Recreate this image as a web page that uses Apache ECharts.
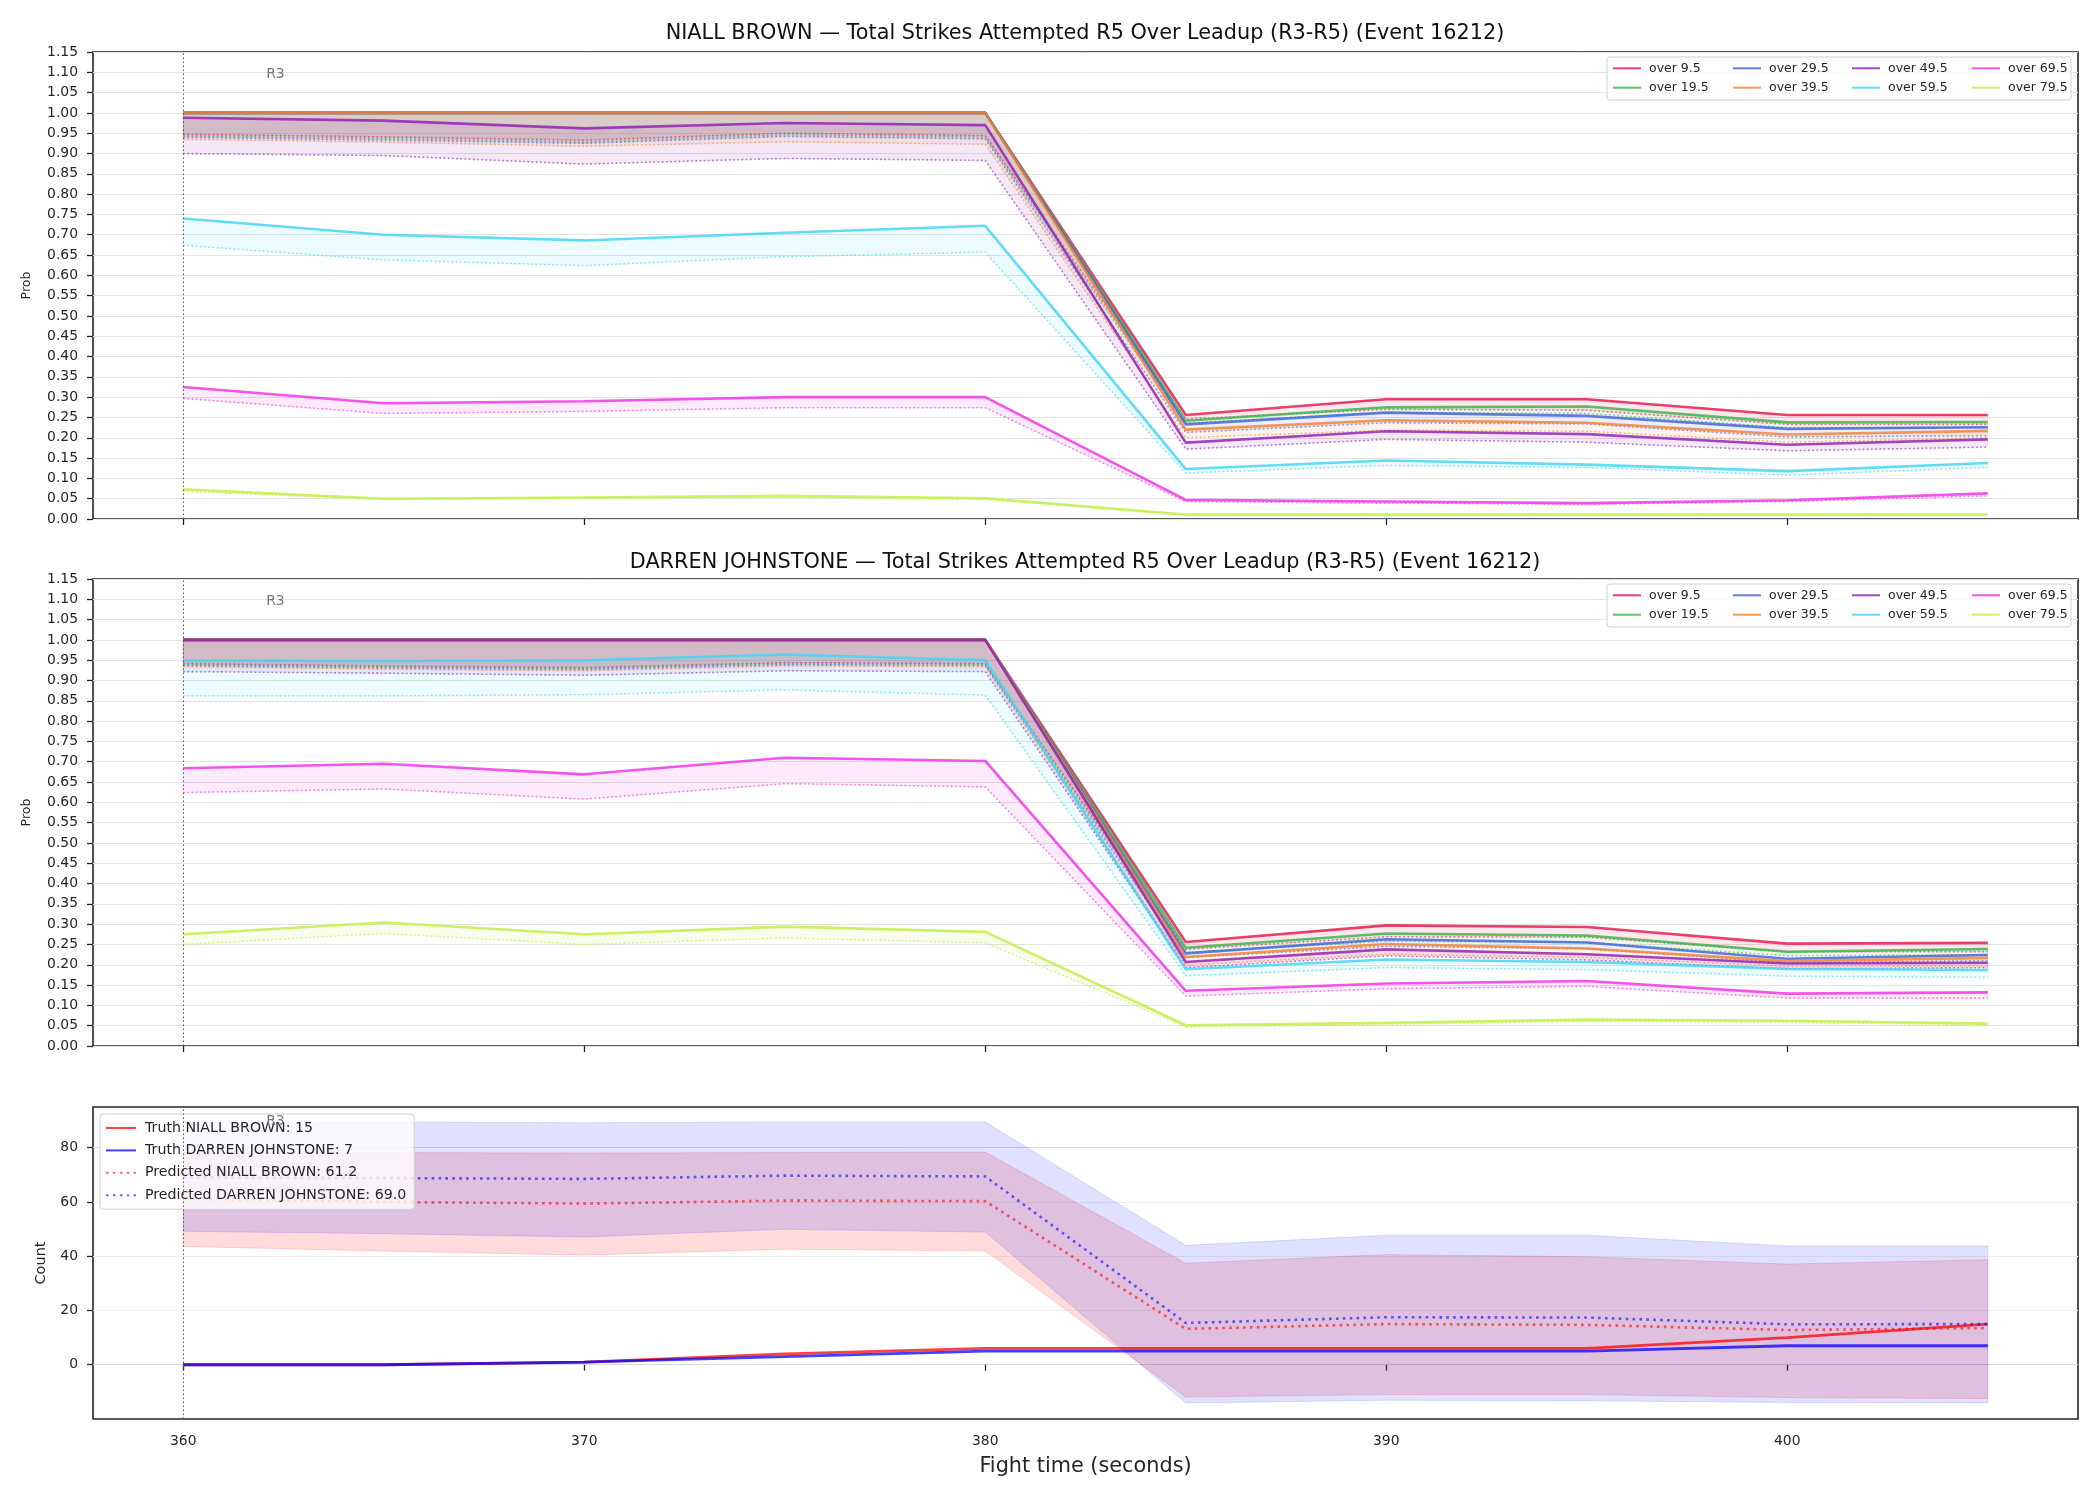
<!DOCTYPE html>
<html>
<head>
<meta charset="utf-8">
<script src="https://cdn.jsdelivr.net/npm/echarts@6/dist/echarts.min.js"></script>
<style>
  html, body { margin: 0; padding: 0; background: #fff; }
  #chart { width: 2100px; height: 1500px; }
</style>
</head>
<body>
<div id="chart"></div>
<script>
  const FONT = 'DejaVu Sans'
  const times = [360, 365, 370, 375, 380, 385, 390, 395, 400, 405]
  const thresholds = ['over 9.5', 'over 19.5', 'over 29.5', 'over 39.5', 'over 49.5', 'over 59.5', 'over 69.5', 'over 79.5']
  const palette = ['#e6194b', '#3cb44b', '#4363d8', '#f58231', '#911eb4', '#42d4f4', '#f032e6', '#bfef45']

  // NIALL BROWN, solid lines (one row per threshold)
  const nbSolid = [
    [1.00, 1.00, 1.00, 1.00, 1.00, 0.256, 0.295, 0.295, 0.256, 0.256],
    [1.00, 1.00, 1.00, 1.00, 1.00, 0.242, 0.275, 0.277, 0.238, 0.239],
    [1.00, 1.00, 1.00, 1.00, 1.00, 0.233, 0.262, 0.254, 0.222, 0.226],
    [1.00, 1.00, 1.00, 1.00, 1.00, 0.220, 0.243, 0.237, 0.208, 0.217],
    [0.988, 0.981, 0.962, 0.975, 0.970, 0.188, 0.216, 0.209, 0.183, 0.196],
    [0.740, 0.700, 0.686, 0.705, 0.722, 0.123, 0.144, 0.134, 0.118, 0.138],
    [0.325, 0.285, 0.290, 0.300, 0.300, 0.047, 0.043, 0.039, 0.046, 0.063],
    [0.073, 0.050, 0.053, 0.057, 0.051, 0.011, 0.011, 0.011, 0.011, 0.011]
  ]
  // NIALL BROWN, dotted lines
  const nbDotted = [
    [0.947, 0.941, 0.933, 0.950, 0.944, 0.246, 0.270, 0.268, 0.233, 0.233],
    [0.943, 0.937, 0.928, 0.946, 0.940, 0.236, 0.262, 0.260, 0.225, 0.225],
    [0.940, 0.933, 0.925, 0.942, 0.936, 0.213, 0.237, 0.234, 0.202, 0.205],
    [0.935, 0.928, 0.918, 0.929, 0.923, 0.200, 0.219, 0.216, 0.189, 0.200],
    [0.900, 0.895, 0.874, 0.888, 0.883, 0.172, 0.196, 0.189, 0.168, 0.177],
    [0.674, 0.638, 0.624, 0.646, 0.657, 0.113, 0.132, 0.127, 0.108, 0.127],
    [0.297, 0.260, 0.265, 0.274, 0.274, 0.043, 0.039, 0.036, 0.043, 0.057],
    [0.068, 0.048, 0.051, 0.054, 0.048, 0.009, 0.009, 0.009, 0.009, 0.009]
  ]
  // DARREN JOHNSTONE, solid lines
  const djSolid = [
    [1.00, 1.00, 1.00, 1.00, 1.00, 0.256, 0.297, 0.293, 0.252, 0.254],
    [1.00, 1.00, 1.00, 1.00, 1.00, 0.242, 0.277, 0.272, 0.232, 0.239],
    [1.00, 1.00, 1.00, 1.00, 1.00, 0.228, 0.263, 0.255, 0.215, 0.224],
    [1.00, 1.00, 1.00, 1.00, 1.00, 0.219, 0.251, 0.240, 0.209, 0.217],
    [1.00, 1.00, 1.00, 1.00, 1.00, 0.207, 0.238, 0.226, 0.203, 0.205],
    [0.949, 0.948, 0.950, 0.964, 0.950, 0.189, 0.213, 0.207, 0.190, 0.187],
    [0.684, 0.695, 0.669, 0.710, 0.702, 0.136, 0.154, 0.160, 0.129, 0.132],
    [0.275, 0.304, 0.275, 0.294, 0.281, 0.051, 0.057, 0.065, 0.062, 0.055]
  ]
  // DARREN JOHNSTONE, dotted lines
  const djDotted = [
    [0.942, 0.936, 0.932, 0.944, 0.942, 0.238, 0.269, 0.268, 0.232, 0.232],
    [0.940, 0.934, 0.930, 0.942, 0.940, 0.230, 0.258, 0.255, 0.222, 0.225],
    [0.937, 0.931, 0.927, 0.939, 0.937, 0.218, 0.245, 0.240, 0.205, 0.210],
    [0.934, 0.928, 0.924, 0.936, 0.934, 0.199, 0.226, 0.218, 0.196, 0.197],
    [0.922, 0.918, 0.913, 0.924, 0.922, 0.193, 0.222, 0.212, 0.190, 0.193],
    [0.862, 0.862, 0.865, 0.877, 0.864, 0.173, 0.193, 0.188, 0.172, 0.169],
    [0.624, 0.633, 0.608, 0.646, 0.638, 0.123, 0.141, 0.147, 0.118, 0.118],
    [0.250, 0.277, 0.250, 0.266, 0.254, 0.047, 0.053, 0.060, 0.058, 0.051]
  ]

  // count panel
  const truthNB = [0, 0, 1, 4, 6, 6, 6, 6, 10, 15]
  const truthDJ = [0, 0, 1, 3, 5, 5, 5, 5, 7, 7]
  const predNB = [61.2, 60.0, 59.4, 60.5, 60.3, 13.2, 15.0, 14.7, 12.8, 13.5]
  const predDJ = [69.0, 68.8, 68.5, 69.7, 69.4, 15.4, 17.5, 17.4, 14.9, 15.0]
  const lowNB = [43.6, 41.9, 40.4, 42.6, 41.9, -11.9, -11.0, -11.0, -12.1, -12.5]
  const highNB = [78.4, 78.2, 78.0, 78.2, 78.4, 37.4, 40.6, 39.8, 37.1, 38.7]
  const lowDJ = [49.2, 48.3, 47.1, 49.9, 48.9, -14.1, -13.1, -13.3, -13.9, -14.1]
  const highDJ = [89.6, 89.5, 89.2, 89.5, 89.5, 44.0, 47.7, 47.7, 43.8, 43.8]

  const xTicks = [360, 370, 380, 390, 400]
  const countTicks = [0, 20, 40, 60, 80]

  function rgba (hex, a) {
    const n = parseInt(hex.slice(1), 16)
    return 'rgba(' + (n >> 16 & 255) + ',' + (n >> 8 & 255) + ',' + (n & 255) + ',' + a + ')'
  }

  function pts (ys) {
    return times.map((t, i) => [t, ys[i]])
  }

  // filled band between two curves, drawn as one polygon
  function band (gi, name, lo, hi, color, alpha) {
    return {
      type: 'custom',
      name: name,
      xAxisIndex: gi,
      yAxisIndex: gi,
      coordinateSystem: 'cartesian2d',
      silent: true,
      data: times.map((t, i) => [t, lo[i], hi[i]]),
      encode: { x: 0, y: [1, 2] },
      renderItem: function (params, api) {
        if (params.dataIndex !== 0) return null
        const p = []
        for (let i = 0; i < times.length; i++) p.push(api.coord([times[i], hi[i]]))
        for (let i = times.length - 1; i >= 0; i--) p.push(api.coord([times[i], lo[i]]))
        return {
          type: 'polygon',
          shape: { points: p },
          style: { fill: rgba(color, alpha), stroke: rgba(color, alpha), lineWidth: 1 }
        }
      }
    }
  }

  function markers (gi, r3y) {
    return {
      type: 'line',
      xAxisIndex: gi,
      yAxisIndex: gi,
      data: [],
      silent: true,
      markLine: {
        silent: true,
        symbol: 'none',
        animation: false,
        label: { show: false },
        lineStyle: { color: '#555', width: 1, type: [1.5, 2.5] },
        data: [{ xAxis: 360 }]
      },
      markPoint: {
        silent: true,
        symbol: 'circle',
        symbolSize: 1,
        itemStyle: { color: 'rgba(0,0,0,0)' },
        label: { show: true, position: 'inside', formatter: 'R3', color: '#777', fontSize: 14, fontFamily: FONT },
        data: [{ coord: [362.3, r3y] }]
      }
    }
  }

  function probSeries (gi, solid, dotted) {
    const out = []
    thresholds.forEach((name, k) => {
      const c = palette[k]
      out.push({
        type: 'line', name: name, xAxisIndex: gi, yAxisIndex: gi,
        data: pts(solid[k]), symbol: 'none',
        itemStyle: { color: c },
        lineStyle: { color: c, width: 2.6, opacity: 0.82 }
      })
      out.push({
        type: 'line', name: name, xAxisIndex: gi, yAxisIndex: gi,
        data: pts(dotted[k]), symbol: 'none',
        itemStyle: { color: c },
        lineStyle: { color: c, width: 1.6, opacity: 0.6, type: [1.6, 2.6] }
      })
      out.push(band(gi, name, dotted[k], solid[k], c, 0.1))
    })
    out.push(markers(gi, 1.096))
    return out
  }

  const grids = [
    { left: 93, top: 52, width: 1985, height: 467 },
    { left: 93, top: 579, width: 1985, height: 467 },
    { left: 93, top: 1107, width: 1985, height: 312 }
  ].map(g => Object.assign(g, { show: true, borderColor: '#262626', borderWidth: 1.6, backgroundColor: 'transparent' }))

  const tickStyle = { show: true, length: 6, lineStyle: { color: '#262626', width: 1.3 } }
  const labelStyle = { color: '#262626', fontSize: 13.9, fontFamily: FONT }

  const xAxes = [0, 1, 2].map(i => ({
    type: 'value', gridIndex: i, min: 357.75, max: 407.25,
    axisLine: { show: false },
    splitLine: { show: false },
    axisTick: Object.assign({ customValues: xTicks }, tickStyle),
    axisLabel: Object.assign({ show: i === 2, customValues: xTicks, margin: 15 }, labelStyle),
    name: i === 2 ? 'Fight time (seconds)' : '',
    nameLocation: 'middle',
    nameGap: 37,
    nameTextStyle: { fontSize: 20.8, color: '#262626', fontFamily: FONT }
  }))

  const probY = i => ({
    type: 'value', gridIndex: i, min: 0, max: 1.15, interval: 0.05,
    axisLine: { show: false },
    axisTick: tickStyle,
    axisLabel: Object.assign({ margin: 15, formatter: v => v.toFixed(2) }, labelStyle),
    splitLine: { lineStyle: { color: '#e3e3e3', width: 1 } },
    name: 'Prob', nameLocation: 'middle', nameGap: 60,
    nameTextStyle: { fontSize: 12.5, color: '#262626', fontFamily: FONT }
  })

  const yAxes = [probY(0), probY(1), {
    type: 'value', gridIndex: 2, min: -20, max: 95, interval: 5,
    axisLine: { show: false },
    axisTick: Object.assign({ customValues: countTicks }, tickStyle),
    axisLabel: Object.assign({ margin: 15, customValues: countTicks }, labelStyle),
    splitLine: { lineStyle: { color: ['#d9d9d9', '#eeeeee', '#eeeeee', '#eeeeee'], width: 1 } },
    name: 'Count', nameLocation: 'middle', nameGap: 44,
    nameTextStyle: { fontSize: 14.5, color: '#262626', fontFamily: FONT }
  }]

  const legendNames = ['Truth NIALL BROWN: 15', 'Truth DARREN JOHNSTONE: 7', 'Predicted NIALL BROWN: 61.2', 'Predicted DARREN JOHNSTONE: 69.0']

  const countSeries = [
    band(2, 'bandNB', lowNB, highNB, '#ff0000', 0.14),
    band(2, 'bandDJ', lowDJ, highDJ, '#0000ff', 0.12),
    { type: 'line', name: legendNames[0], xAxisIndex: 2, yAxisIndex: 2, data: pts(truthNB), symbol: 'none',
      itemStyle: { color: '#ff3333' }, lineStyle: { color: '#ff0000', width: 2.8, opacity: 0.75 } },
    { type: 'line', name: legendNames[1], xAxisIndex: 2, yAxisIndex: 2, data: pts(truthDJ), symbol: 'none',
      itemStyle: { color: '#3333ff' }, lineStyle: { color: '#0000ff', width: 2.8, opacity: 0.75 } },
    { type: 'line', name: legendNames[2], xAxisIndex: 2, yAxisIndex: 2, data: pts(predNB), symbol: 'none',
      itemStyle: { color: '#ff6666' }, lineStyle: { color: '#ff0000', width: 2.6, opacity: 0.6, type: [2.6, 4.3] } },
    { type: 'line', name: legendNames[3], xAxisIndex: 2, yAxisIndex: 2, data: pts(predDJ), symbol: 'none',
      itemStyle: { color: '#6666ff' }, lineStyle: { color: '#0000ff', width: 2.6, opacity: 0.6, type: [2.6, 4.3] } },
    markers(2, 89.6)
  ]

  // matplotlib-like 4 column legend: one vertical legend per column
  const colX = [1612, 1732, 1851, 1971]
  function probLegends (rowTop) {
    return colX.map((x, c) => ({
      left: x, top: rowTop, orient: 'vertical', padding: 0,
      data: [thresholds[c * 2], thresholds[c * 2 + 1]],
      itemWidth: 28, itemHeight: 1, itemGap: 5.4,
      selectedMode: false,
      textStyle: { fontSize: 12.5, fontFamily: FONT, color: '#262626', lineHeight: 14, padding: [0, 0, 0, 3] }
    }))
  }
  function legendBox (y) {
    return {
      type: 'rect', z: 3, shape: { x: 1607, y: y, width: 464, height: 43, r: 3 },
      style: { fill: 'rgba(255,255,255,0.8)', stroke: '#d0d0d0', lineWidth: 1 }
    }
  }

  const chart = echarts.init(document.getElementById('chart'), null, { renderer: 'canvas' })
  chart.setOption({
    animation: false,
    backgroundColor: '#fff',
    grid: grids,
    xAxis: xAxes,
    yAxis: yAxes,
    legend: [].concat(probLegends(61.3), probLegends(588.3), [{
      left: 100, top: 1114, orient: 'vertical',
      data: legendNames,
      itemWidth: 30, itemHeight: 1, itemGap: 6.4,
      padding: [6, 8, 6, 5],
      backgroundColor: 'rgba(255,255,255,0.8)', borderColor: '#d0d0d0', borderWidth: 1, borderRadius: 3,
      selectedMode: false,
      textStyle: { fontSize: 14.2, fontFamily: FONT, color: '#262626', lineHeight: 16, padding: [0, 0, 0, 4] }
    }]),
    graphic: [
      legendBox(57),
      legendBox(584),
      { type: 'text', x: 1085, y: 34, style: { text: 'NIALL BROWN — Total Strikes Attempted R5 Over Leadup (R3-R5) (Event 16212)', textAlign: 'center', textVerticalAlign: 'middle', fontSize: 20.8, fontFamily: FONT, fill: '#111' } },
      { type: 'text', x: 1085, y: 563, style: { text: 'DARREN JOHNSTONE — Total Strikes Attempted R5 Over Leadup (R3-R5) (Event 16212)', textAlign: 'center', textVerticalAlign: 'middle', fontSize: 20.8, fontFamily: FONT, fill: '#111' } }
    ],
    series: [].concat(probSeries(0, nbSolid, nbDotted), probSeries(1, djSolid, djDotted), countSeries)
  })
</script>
</body>
</html>
